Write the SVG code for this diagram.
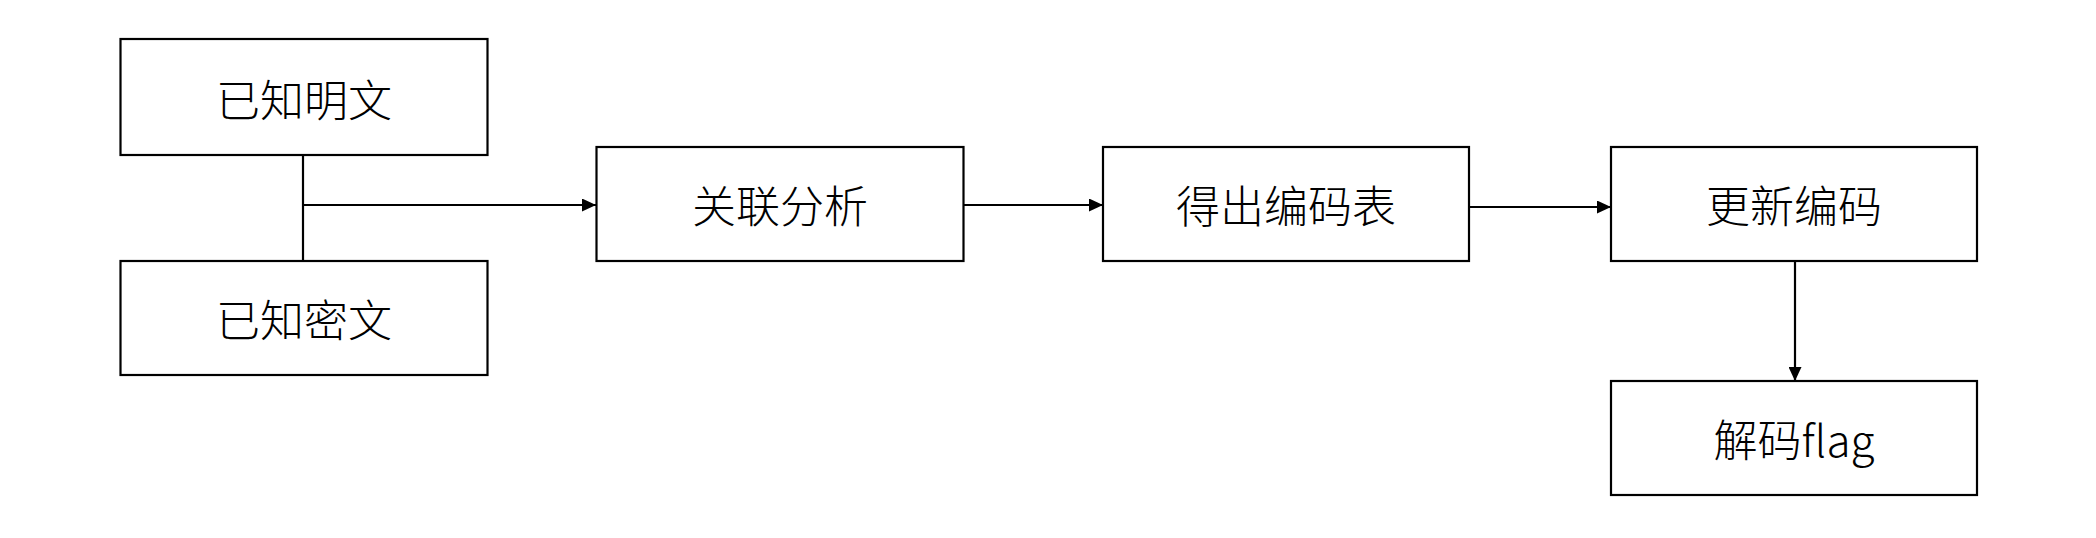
<svg xmlns="http://www.w3.org/2000/svg" width="2096" height="538" viewBox="0 0 2096 538">
<style>
.box{fill:#fff;stroke:#000;stroke-width:2.2}
.lbl{font-family:"Noto Sans CJK SC","Noto Sans",sans-serif;font-size:44px;font-weight:300;fill:#000;text-anchor:middle;dominant-baseline:central}
.con{fill:none;stroke:#000;stroke-width:2.2}
</style>
<defs>
<marker id="arr" markerUnits="userSpaceOnUse" markerWidth="14" markerHeight="13" refX="14" refY="6.5" orient="auto">
<path d="M0,0 L14,6.5 L0,13 z" fill="#000"/>
</marker>
</defs>
<rect width="2096" height="538" fill="#fff"/>
<g id="connectors">
<line class="con" x1="303" y1="155" x2="303" y2="261"/>
<line class="con" x1="303" y1="205" x2="596" y2="205" marker-end="url(#arr)"/>
<line class="con" x1="963" y1="205" x2="1103" y2="205" marker-end="url(#arr)"/>
<line class="con" x1="1469" y1="207" x2="1611" y2="207" marker-end="url(#arr)"/>
<line class="con" x1="1795" y1="261" x2="1795" y2="381" marker-end="url(#arr)"/>
</g>
<g id="n1"><rect class="box" x="120.5" y="39" width="367" height="116"/><text class="lbl" x="304" y="98">已知明文</text></g>
<g id="n2"><rect class="box" x="120.5" y="261" width="367" height="114"/><text class="lbl" x="304" y="318">已知密文</text></g>
<g id="n3"><rect class="box" x="596.5" y="147" width="367" height="114"/><text class="lbl" x="780" y="204">关联分析</text></g>
<g id="n4"><rect class="box" x="1103" y="147" width="366" height="114"/><text class="lbl" x="1286" y="204">得出编码表</text></g>
<g id="n5"><rect class="box" x="1611" y="147" width="366" height="114"/><text class="lbl" x="1794" y="204">更新编码</text></g>
<g id="n6"><rect class="box" x="1611" y="381" width="366" height="114"/><text class="lbl" x="1794" y="438">解码flag</text></g>
</svg>
